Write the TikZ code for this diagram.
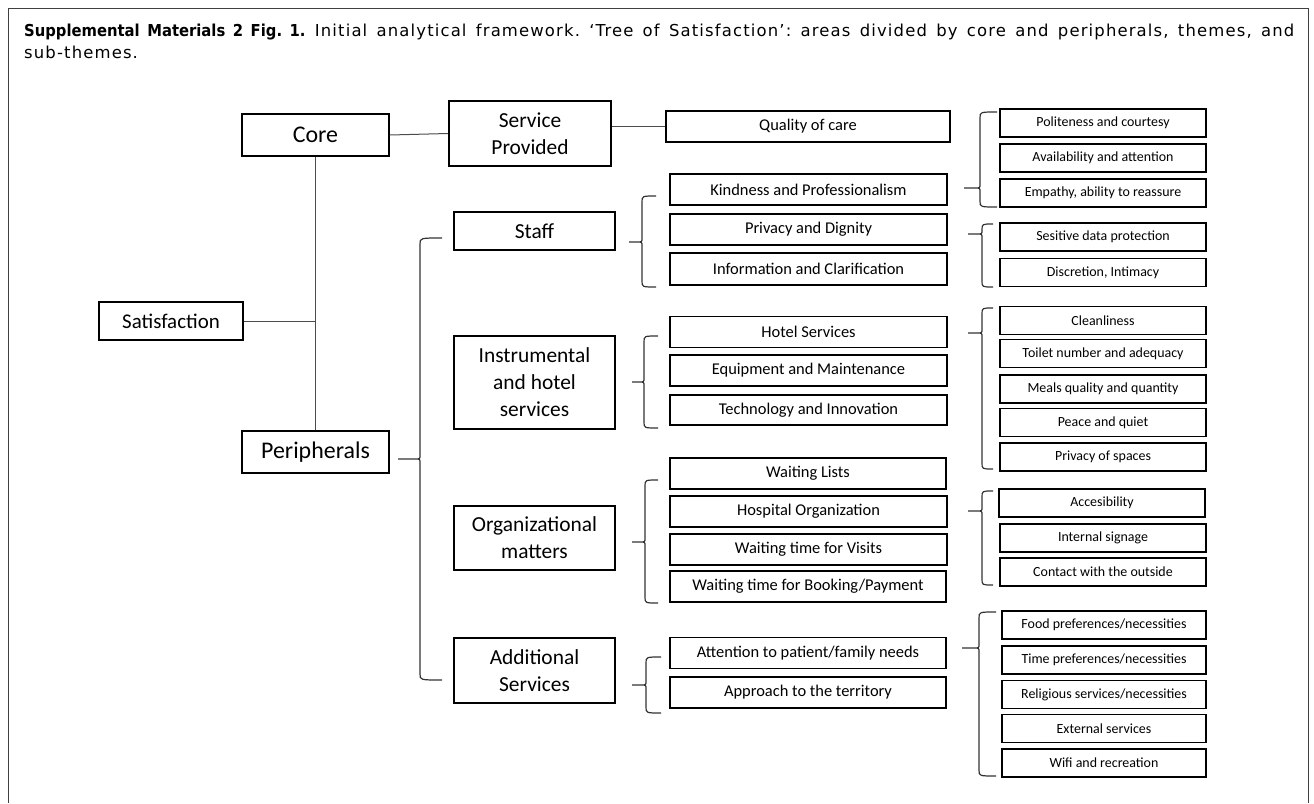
\documentclass[tikz,border=0pt]{standalone}
\usepackage{fontspec}
\setmainfont{Carlito}
\newfontfamily\capfont[LetterSpace=7]{DejaVu Sans}
\newfontfamily\capbf[FakeStretch=0.9]{DejaVu Sans}
% curly bracket: tip x, tip y, spine x, top y, bottom y, end x
\newcommand\curly[6]{%
  \draw[brc] (#6,#4) .. controls (#3,#4) .. (#3,#4+6) -- (#3,#2-4) .. controls (#3,#2) .. (#3-5,#2) -- (#1,#2)
    (#3-5,#2) .. controls (#3,#2) .. (#3,#2+4) -- (#3,#5-6) .. controls (#3,#5) .. (#6,#5);}
\begin{document}
\begin{tikzpicture}[x=1bp,y=-1bp,
  box/.style={draw,line width=1.8bp,inner sep=2bp,align=center},
  area/.style={box,minimum width=147bp,minimum height=42bp,font=\fontsize{24}{29}\selectfont},
  theme/.style={box,minimum width=161bp,font=\fontsize{21.5}{27}\selectfont},
  sub/.style={box,minimum width=277bp,minimum height=31bp,font=\fontsize{16.5}{20}\selectfont},
  leaf/.style={box,minimum width=206bp,minimum height=28bp,font=\fontsize{14}{17}\selectfont},
  link/.style={line width=1bp,black!70},
  brc/.style={line width=1.2bp,black!80}]
\useasboundingbox (0,0) rectangle (1314,803);
\draw[black!75,line width=1bp] (8.7,803) -- (8.7,9) -- (1308,9) -- (1308,803);
\node[anchor=north west,inner sep=0,text width=1270bp,align=justify,font=\capfont\fontsize{16.5}{21.5}\selectfont\frenchspacing] (cap) at (24,24)
  {{\capbf\bfseries Supplemental Materials 2 Fig. 1.} Initial analytical framework. ‘Tree of Satisfaction’: areas divided by core and peripherals, themes, and\linebreak sub-themes.};

% areas
\node[box,minimum width=144bp,minimum height=38bp,font=\fontsize{21}{26}\selectfont] (sat) at (171,321) {Satisfaction};
\node[area] (core) at (315.5,135) {Core};
\node[area] (peri) at (315.5,452) {Peripherals};

% themes
\node[theme,minimum width=162bp,minimum height=65bp] (serv) at (530,133.5) {Service\\Provided};
\node[theme,minimum height=38bp] (staff) at (534.5,231) {Staff};
\node[theme,minimum height=93bp] (instr) at (534.5,382.5) {Instrumental\\and hotel\\services};
\node[theme,minimum height=64bp] (org) at (534.5,538) {Organizational\\matters};
\node[theme,minimum height=65bp] (addl) at (534.5,670.5) {Additional\\Services};

% sub-themes
\node[sub,minimum width=284bp] (qual) at (808,126.5) {Quality of care};
\node[sub] (kind) at (808.5,189.5) {Kindness and Professionalism};
\node[sub] (priv) at (808.5,229.5) {Privacy and Dignity};
\node[sub,minimum height=32bp] (info) at (808.5,269) {Information and Clarification};
\node[sub] (hotel) at (808.5,332) {Hotel Services};
\node[sub] (equip) at (808.5,370.5) {Equipment and Maintenance};
\node[sub,minimum height=30bp] (tech) at (808.5,410) {Technology and Innovation};
\node[sub,minimum width=276bp] (wlist) at (808,473.5) {Waiting Lists};
\node[sub] (hosp) at (808.5,511.5) {Hospital Organization};
\node[sub] (wvis) at (808.5,549.5) {Waiting time for Visits};
\node[sub,minimum width=276bp] (wbook) at (808,586.5) {Waiting time for Booking/Payment};
\node[sub,minimum width=276bp] (att) at (808,653) {Attention to patient/family needs};
\node[sub,minimum width=276bp] (appr) at (808,692.5) {Approach to the territory};

% details
\node[leaf] (polite) at (1103,123) {Politeness and courtesy};
\node[leaf] (avail) at (1103,158) {Availability and attention};
\node[leaf] (empat) at (1103,193) {Empathy, ability to reassure};
\node[leaf] (sens) at (1103,237) {Sesitive data protection};
\node[leaf] (discr) at (1103,272.5) {Discretion, Intimacy};
\node[leaf] (clean) at (1103,320.5) {Cleanliness};
\node[leaf] (toil) at (1103,353.5) {Toilet number and adequacy};
\node[leaf] (meal) at (1103,389) {Meals quality and quantity};
\node[leaf] (peace) at (1103,422.5) {Peace and quiet};
\node[leaf] (pspace) at (1103,457) {Privacy of spaces};
\node[leaf] (acces) at (1102,503) {Accesibility};
\node[leaf] (sign) at (1103,538) {Internal signage};
\node[leaf] (contact) at (1103,572) {Contact with the outside};
\node[leaf,minimum width=204bp] (food) at (1104,625) {Food preferences/necessities};
\node[leaf,minimum width=204bp] (time) at (1104,660) {Time preferences/necessities};
\node[leaf,minimum width=204bp] (relig) at (1104,694.5) {Religious services/necessities};
\node[leaf,minimum width=204bp] (ext) at (1104,728.5) {External services};
\node[leaf,minimum width=204bp] (wifi) at (1104,763) {Wifi and recreation};

% tree lines
\draw[link] (core.south) -- (peri.north);
\draw[link] (sat.east) -- (sat.east -| core.south);
\draw[link] (core.east) -- (serv.west);
\draw[link] (qual.west -| serv.east) -- (qual.west);

% brackets
\curly{398}{459}{420}{238}{680}{442}
\curly{629}{242}{642}{196}{287}{656}
\curly{632}{382}{644}{336}{428}{658}
\curly{632}{542}{645}{480}{603}{658}
\curly{632}{685}{646}{657}{713}{661}
\curly{964}{188}{980}{112}{207}{997}
\curly{968}{234}{982}{224}{287}{993}
\curly{968}{333}{982}{308}{469}{993}
\curly{968}{511}{982}{491}{585}{993}
\curly{962}{648}{979}{612}{776}{996}
\end{tikzpicture}
\end{document}
